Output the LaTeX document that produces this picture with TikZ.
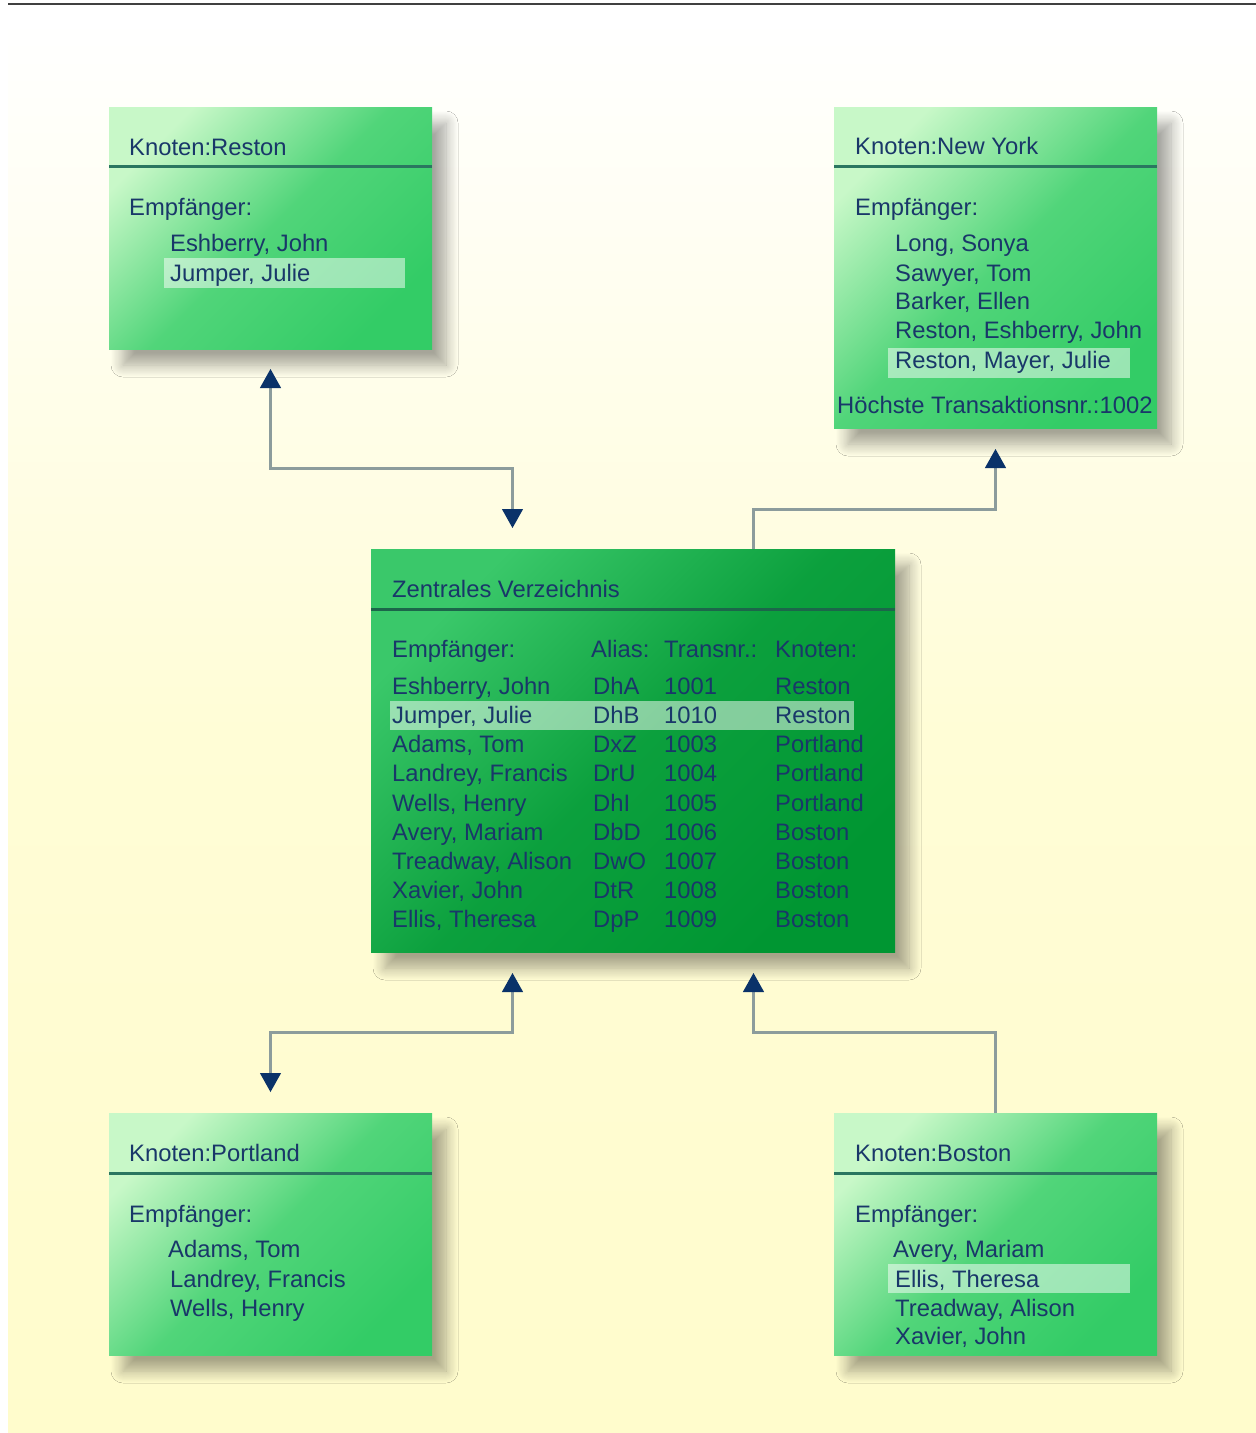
\documentclass[tikz,border=0pt]{standalone}
\usepackage{fontspec}
\setmainfont{Liberation Sans}
\usetikzlibrary{positioning,arrows.meta,shadows.blur}
\definecolor{bgyellow}{RGB}{255,252,204}
\definecolor{boxlight}{RGB}{200,248,200}
\definecolor{boxgreen}{RGB}{51,204,102}
\definecolor{centerlight}{RGB}{58,200,106}
\definecolor{centerdark}{RGB}{0,150,50}
\definecolor{textblue}{RGB}{25,55,105}
\definecolor{headteal}{RGB}{42,118,96}
\definecolor{headdark}{RGB}{28,102,74}
\definecolor{linegray}{RGB}{140,156,156}
\definecolor{arrowblue}{RGB}{10,50,105}
\definecolor{shadowbrown}{RGB}{150,110,50}

\begin{document}
\begin{tikzpicture}[x=1pt,y=-1pt,
    box/.style={rectangle,inner sep=0pt,outer sep=0pt,
      blur shadow={shadow xshift=14pt,shadow yshift=-16pt,shadow blur radius=12pt,shadow blur steps=12,shadow opacity=35,fill=shadowbrown}},
    knotbox/.style={box,minimum width=323pt,minimum height=242pt,
      top color=boxlight,bottom color=boxgreen,middle color=boxgreen!80!boxlight,shading angle=45},
    txt/.style={anchor=base west,inner sep=0pt,text=textblue,font=\fontsize{23.8}{28}\selectfont},
    headline/.style={draw=headteal,line width=3pt},
    hilite/.style={fill=white,fill opacity=0.5},
    conn/.style={draw=linegray,line width=3pt},
    >={Triangle[width=21pt,length=19pt,color=arrowblue,line width=1pt]}]
  \useasboundingbox (0,0) rectangle (1256,1433);
  % background
  \shade[top color=white,bottom color=bgyellow,middle color=bgyellow!80!white] (8,20) rectangle (1256,1433);
  \draw[line width=2pt,black!75] (8,4) -- (1256,4);

  % reston
  \node[knotbox] (reston) at (270.5,228) {};
  \draw[headline] (109,166) -- (432,166);
  \fill[hilite] (164,258) rectangle (405,288);
  \node[txt] (reston-title) at (129,155) {Knoten:Reston};
  \node[txt] (reston-emp) at (129,215) {Empfänger:};
  \node[txt] (reston-r1) at (170,251) {Eshberry, John};
  \node[txt] (reston-r2) at (170,281) {Jumper, Julie};

  % new york
  \node[knotbox,minimum height=321pt] (newyork) at (995.5,267.5) {};
  \draw[headline] (834,166) -- (1157,166);
  \fill[hilite] (888,348) rectangle (1130,378);
  \node[txt] (newyork-title) at (855,154) {Knoten:New York};
  \node[txt] (newyork-emp) at (855,215) {Empfänger:};
  \node[txt] (newyork-r1) at (895,251) {Long, Sonya};
  \node[txt] (newyork-r2) at (895,281) {Sawyer, Tom};
  \node[txt] (newyork-r3) at (895,309) {Barker, Ellen};
  \node[txt] (newyork-r4) at (895,338) {Reston, Eshberry, John};
  \node[txt] (newyork-r5) at (895,368) {Reston, Mayer, Julie};
  \node[txt] (newyork-max) at (837,413) {Höchste Transaktionsnr.:1002};

  % zentrales verzeichnis
  \node[box,minimum width=524pt,minimum height=403pt,
    top color=centerlight,bottom color=centerdark,middle color=centerdark!80!centerlight,shading angle=45] (zentral) at (633,750.5) {};
  \draw[headline,draw=headdark] (371,609) -- (895,609);
  \fill[hilite] (390,701) rectangle (854,730);
  \node[txt] (zentral-title) at (392,597) {Zentrales Verzeichnis};
  \node[txt] (zentral-h1) at (392,657) {Empfänger:};
  \node[txt] (zentral-h2) at (591,657) {Alias:};
  \node[txt] (zentral-h3) at (664,657) {Transnr.:};
  \node[txt] (zentral-h4) at (775,657) {Knoten:};
  \foreach \name/\alias/\nr/\knot [count=\i] in {{Eshberry, John}/DhA/1001/Reston,
      {Jumper, Julie}/DhB/1010/Reston, {Adams, Tom}/DxZ/1003/Portland,
      {Landrey, Francis}/DrU/1004/Portland, {Wells, Henry}/DhI/1005/Portland,
      {Avery, Mariam}/DbD/1006/Boston, {Treadway, Alison}/DwO/1007/Boston,
      {Xavier, John}/DtR/1008/Boston, {Ellis, Theresa}/DpP/1009/Boston}{
    \pgfmathsetmacro{\rowy}{665+29.2*\i}
    \node[txt] (zentral-n\i) at (392,\rowy) {\name};
    \node[txt] (zentral-a\i) at (593,\rowy) {\alias};
    \node[txt] (zentral-t\i) at (664,\rowy) {\nr};
    \node[txt] (zentral-k\i) at (775,\rowy) {\knot};
  }

  % portland
  \node[knotbox] (portland) at (270.5,1234) {};
  \draw[headline] (109,1173) -- (432,1173);
  \node[txt] (portland-title) at (129,1161) {Knoten:Portland};
  \node[txt] (portland-emp) at (129,1222) {Empfänger:};
  \node[txt] (portland-r1) at (168,1257) {Adams, Tom};
  \node[txt] (portland-r2) at (170,1287) {Landrey, Francis};
  \node[txt] (portland-r3) at (170,1316) {Wells, Henry};

  % boston
  \node[knotbox] (boston) at (995.5,1234) {};
  \draw[headline] (834,1173) -- (1157,1173);
  \fill[hilite] (888,1264) rectangle (1130,1293);
  \node[txt] (boston-title) at (855,1161) {Knoten:Boston};
  \node[txt] (boston-emp) at (855,1222) {Empfänger:};
  \node[txt] (boston-r1) at (893,1257) {Avery, Mariam};
  \node[txt] (boston-r2) at (895,1287) {Ellis, Theresa};
  \node[txt] (boston-r3) at (895,1316) {Treadway, Alison};
  \node[txt] (boston-r4) at (895,1344) {Xavier, John};

  % connectors
  \coordinate[below=20pt of reston] (reston-tip);
  \coordinate[above left=21pt and 120.5pt of zentral.north] (zentral-nw);
  \coordinate[right=120.5pt of zentral.north] (zentral-ne);
  \coordinate[below=21pt of newyork] (newyork-tip);
  \coordinate[below left=21pt and 120.5pt of zentral.south] (zentral-sw);
  \coordinate[below right=21pt and 120.5pt of zentral.south] (zentral-se);
  \coordinate[above=21pt of portland] (portland-tip);
  \draw[conn,<->] (reston-tip) -- ++(0,99) -| (zentral-nw);
  \draw[conn,->] (zentral-ne) -- ++(0,-40) -| (newyork-tip);
  \draw[conn,<->] (zentral-sw) -- ++(0,59) -| (portland-tip);
  \draw[conn,->] (boston.north) -- ++(0,-81) -| (zentral-se);
\end{tikzpicture}
\end{document}
